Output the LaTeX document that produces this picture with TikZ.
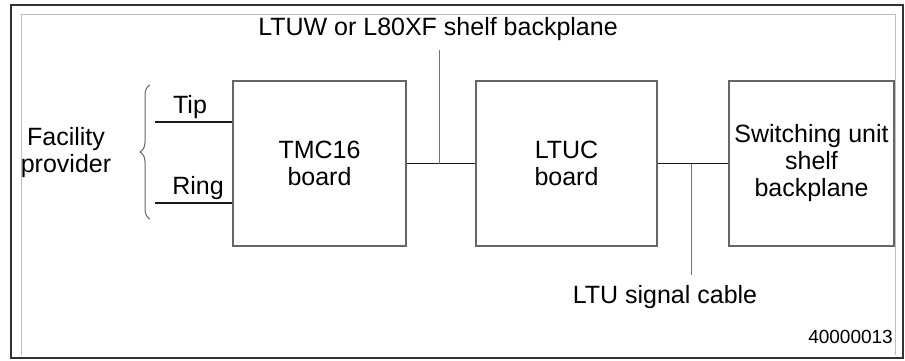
\documentclass[tikz,border=0pt]{standalone}
\usepackage{fontspec}
\setmainfont{Liberation Sans}
\usetikzlibrary{decorations.pathreplacing}
\begin{document}
\begin{tikzpicture}[x=1pt,y=-1pt,
  every node/.style={font=\fontsize{25}{27}\selectfont, inner sep=0pt},
  board/.style={draw=black!60, line width=1.2pt},
  wire/.style={draw=black!90, line width=1.8pt},
  thin/.style={draw=black!55, line width=1pt},
  lbl/.style={align=center}]
\useasboundingbox (0,0) rectangle (905,360);
\fill[white] (0,0) rectangle (905,360);
% frames
\draw[black!80, line width=2pt] (11,5) rectangle (903,358);
\draw[black!25, line width=1pt] (21,355) -- (21,14) -- (895,14) -- (895,355);
% boards
\node[board, minimum width=173pt, minimum height=165pt, lbl] (tmc) at (319.5,163.5) {TMC16\\board};
\node[board, minimum width=181pt, minimum height=165pt, lbl] (ltuc) at (566.5,163.5) {LTUC\\board};
\node[board, minimum width=165pt, minimum height=165pt, lbl] (sw) at (811.5,163.5) {Switching unit\\shelf\\backplane};
% connectors
\draw[wire] (tmc.east) -- (ltuc.west);
\draw[wire] (ltuc.east) -- (sw.west);
\coordinate (bpj) at (439,163.5);
\coordinate (bpt) at (439,50);
\draw[thin] (bpj) -- (bpt);
\coordinate (scj) at (691,163.5);
\coordinate (scb) at (691,275);
\draw[thin] (scj) -- (scb);
% labels
\node (bplbl) at (438,29) {LTUW or L80XF shelf backplane};
\node (sclbl) at (665,297) {LTU signal cable};
\node[anchor=east] (num) at (893,337) {\fontsize{19}{21}\selectfont 40000013};
% tip/ring
\coordinate (tipa) at (155,122);
\coordinate (tipb) at (tmc.west |- tipa);
\coordinate (ringa) at (155,203);
\coordinate (ringb) at (tmc.west |- ringa);
\draw[wire] (tipa) -- (tipb);
\draw[wire] (ringa) -- (ringb);
\node[anchor=base] (tip) at (190,113) {Tip};
\node[anchor=base] (ring) at (198,194) {Ring};
% brace
\coordinate (bra) at (150,219);
\coordinate (brb) at (150,85);
\draw[black!60, line width=1pt, decoration={brace, amplitude=10pt}, decorate] (bra) -- (brb);
\node[lbl] (fac) at (66,153) {Facility\\provider};
\end{tikzpicture}
\end{document}
